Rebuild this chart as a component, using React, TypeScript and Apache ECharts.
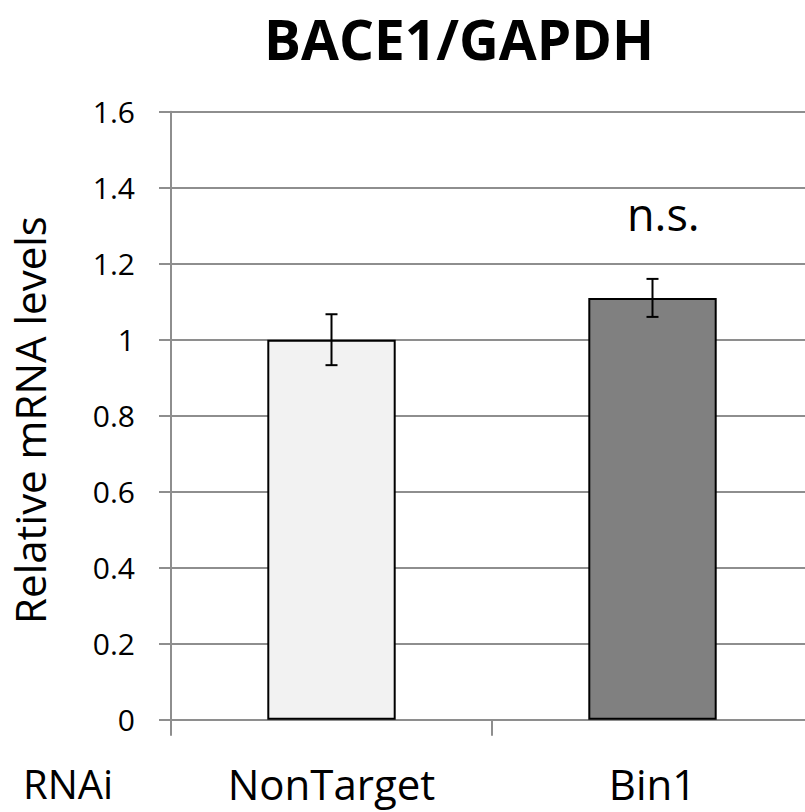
import React, { useEffect, useRef } from "react";
import * as echarts from "echarts";

const categories = ["NonTarget", "Bin1"];
const values = [1.0, 1.11];
const errors = [0.067, 0.05];
const barColors = ["#f2f2f2", "#808080"];
const yTicks = { min: 0, max: 1.6, interval: 0.2 };

const FONT = "Open Sans";

export default function App() {
  const ref = useRef<HTMLDivElement>(null);
  useEffect(() => {
    const chart = echarts.init(ref.current!, undefined, { renderer: "svg" });
    const errData = categories.map((c, i) => [i, values[i] - errors[i], values[i] + errors[i]]);
    chart.setOption({
      animation: false,
      backgroundColor: "#ffffff",
      grid: { left: 171, top: 111.7, right: 0, bottom: 92.3 },
      xAxis: {
        type: "category",
        data: categories,
        boundaryGap: true,
        axisLine: { lineStyle: { color: "#8e8e8e", width: 2 } },
        axisTick: { show: true, length: 16, interval: 0, lineStyle: { color: "#8e8e8e", width: 2 } },
        axisLabel: { fontFamily: FONT, fontSize: 42, color: "#000", margin: 43, interval: 0 },
        splitLine: { show: false },
      },
      yAxis: {
        type: "value",
        min: yTicks.min,
        max: yTicks.max,
        interval: yTicks.interval,
        axisLine: { show: true, lineStyle: { color: "#8e8e8e", width: 2 } },
        axisTick: { show: true, length: 12, lineStyle: { color: "#8e8e8e", width: 2 } },
        axisLabel: {
          fontFamily: FONT,
          fontSize: 30,
          color: "#000",
          margin: 36,
          formatter: (v: number) => (Math.round(v * 10) / 10).toString(),
        },
        splitLine: { show: true, lineStyle: { color: "#8e8e8e", width: 2 } },
      },
      graphic: [
        {
          type: "text",
          x: 264,
          y: 38,
          style: {
            text: "BACE1/GAPDH",
            fontFamily: FONT,
            fontWeight: "bold",
            fontSize: 55,
            fill: "#000",
            verticalAlign: "middle",
            align: "left",
          },
        },
        {
          type: "text",
          x: 29,
          y: 420,
          rotation: Math.PI / 2,
          style: {
            text: "Relative mRNA levels",
            fontFamily: FONT,
            fontSize: 42,
            fill: "#000",
            verticalAlign: "middle",
            align: "center",
          },
        },
        {
          type: "text",
          x: 23,
          y: 783,
          style: { text: "RNAi", fontFamily: FONT, fontSize: 40, fill: "#000", verticalAlign: "middle", align: "left" },
        },
        {
          type: "text",
          x: 627,
          y: 213,
          style: { text: "n.s.", fontFamily: FONT, fontSize: 45, fill: "#000", verticalAlign: "middle", align: "left" },
        },
      ],
      series: [
        {
          type: "bar",
          data: values.map((v, i) => ({
            value: v,
            itemStyle: { color: barColors[i], borderColor: "#000", borderWidth: 2 },
          })),
          barWidth: "40%",
          z: 2,
        },
        {
          type: "custom",
          z: 3,
          data: errData,
          renderItem: (params: any, api: any) => {
            const x = api.value(0);
            const lo = api.coord([x, api.value(1)]);
            const hi = api.coord([x, api.value(2)]);
            const cap = 6;
            const style = { stroke: "#000", lineWidth: 2 };
            return {
              type: "group",
              children: [
                { type: "line", shape: { x1: hi[0], y1: hi[1], x2: lo[0], y2: lo[1] }, style },
                { type: "line", shape: { x1: hi[0] - cap, y1: hi[1], x2: hi[0] + cap, y2: hi[1] }, style },
                { type: "line", shape: { x1: lo[0] - cap, y1: lo[1], x2: lo[0] + cap, y2: lo[1] }, style },
              ],
            };
          },
        },
      ],
    });
    return () => chart.dispose();
  }, []);
  return (
    <div style={{ position: "absolute", left: 0, top: 0, width: 805, height: 812, overflow: "hidden", background: "#fff" }}>
      <div ref={ref} style={{ width: 813, height: 812 }} />
    </div>
  );
}
